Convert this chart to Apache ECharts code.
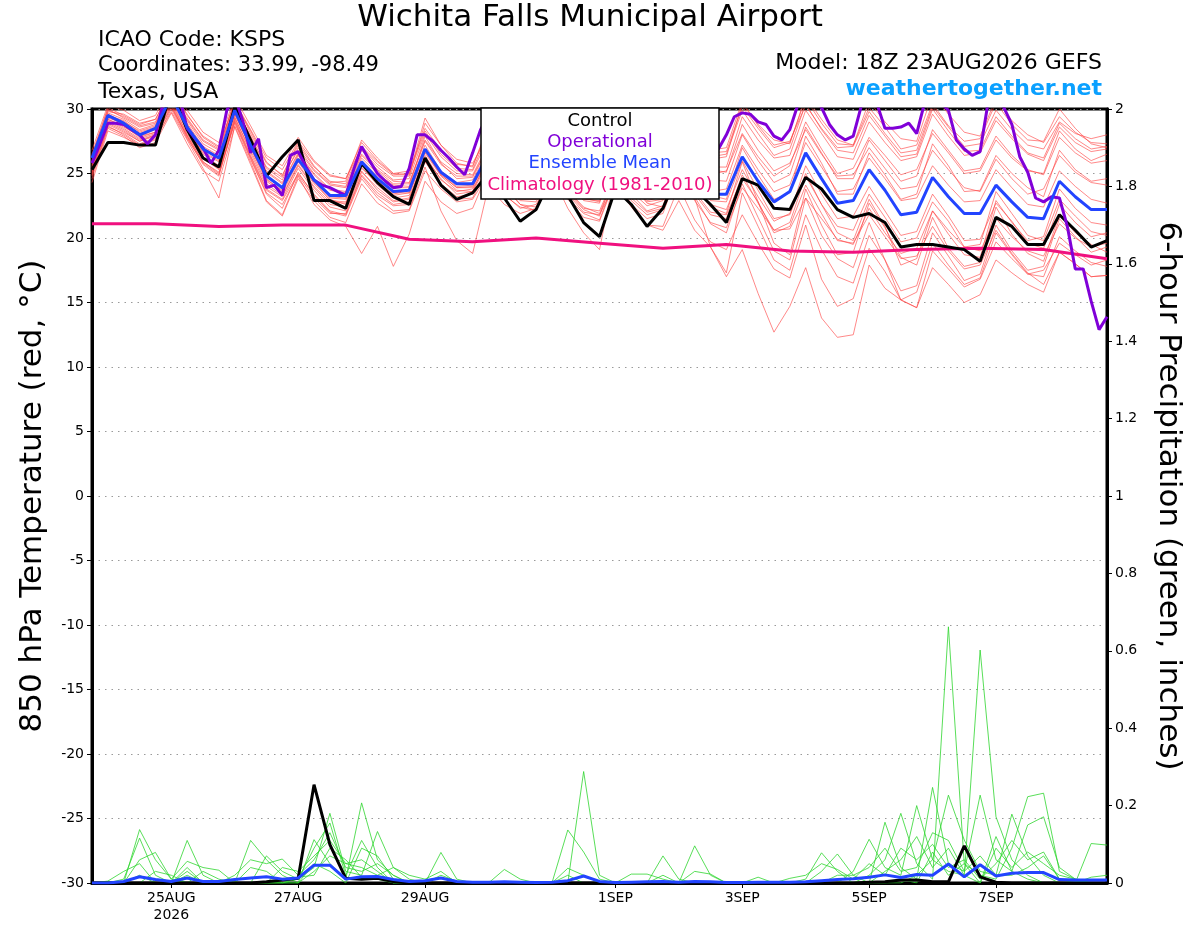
<!DOCTYPE html>
<html><head><meta charset="utf-8">
<script src="https://cdn.jsdelivr.net/npm/echarts@6/dist/echarts.min.js"></script>
<style>html,body{margin:0;padding:0;background:#fff}#c{width:1200px;height:927px}</style>
</head><body><div id="c"></div>
<script>
// Run: 18Z 23AUG2026 GEFS, hours since run start
const tickHours = [30, 78, 126, 198, 246, 294, 342];
const tickLabels = ['25AUG\n2026', '27AUG', '29AUG', '1SEP', '3SEP', '5SEP', '7SEP'];
const leftTicks = [-30, -25, -20, -15, -10, -5, 0, 5, 10, 15, 20, 25, 30];

// 850 hPa temperature, 6-hourly (65 values)
const controlTemp = [25.3,
 27.4,27.4,27.2,27.2, 31.5,28.4,26.2,25.5, 30.2,27.6,24.8,26.3, 27.6,22.9,22.9,22.3,
 25.8,24.3,23.2,22.6, 26.2,24.1,23.0,23.5, 25.0,23.1,21.3,22.2, 24.8,23.3,21.2,20.1,
 23.8,22.6,20.9,22.3, 25.2,23.8,22.6,21.2, 24.6,24.1,22.3,22.2, 24.7,23.8,22.2,21.6,
 21.9,21.2,19.3,19.5, 19.5,19.3,19.1,18.2, 21.6,20.9,19.5,19.5, 21.8,20.6,19.3,19.8];
const meanTemp = [26.2,
 29.5,28.9,28.0,28.5, 31.0,28.6,26.9,26.2, 29.9,27.2,24.8,23.9, 26.1,24.5,23.3,23.3,
 25.9,24.6,23.6,23.7, 26.9,25.1,24.2,24.2, 26.5,25.0,24.0,24.2, 26.3,24.8,23.8,23.6,
 26.0,24.8,23.8,24.0, 26.5,24.5,23.4,23.4, 26.3,24.4,22.8,23.6, 26.6,24.6,22.7,22.9,
 25.3,23.7,21.8,22.0, 24.7,23.2,21.9,21.9, 24.1,22.8,21.6,21.5, 24.4,23.2,22.2,22.2];
// operational run, 3-hourly (129 values)
const operationalTemp = [
 25.8,27.3,28.9,28.9,28.8,28.4,28.0,27.3,28.0,30.5,
 31.0,31.0,28.5,27.7,27.0,25.8,26.8,29.9,31.0,29.1,
 26.6,27.7,23.9,24.1,23.3,26.4,26.7,25.5,24.5,24.1,
 23.9,23.6,23.3,25.3,27.1,26.0,25.0,24.4,23.9,24.0,
 25.4,28.0,28.0,27.5,26.8,26.2,25.5,24.9,26.6,28.4,
 29.5,29.8,29.0,28.0,27.2,26.5,26.0,27.0,28.5,29.0,
 28.5,27.5,26.5,25.8,25.5,26.5,28.0,28.8,28.2,27.4,
 26.5,25.8,25.5,26.5,28.0,28.5,28.0,27.3,26.8,26.9,
 28.0,29.4,29.7,29.6,29.0,28.8,27.9,27.6,28.4,30.3,
 31.0,31.0,30.1,28.8,28.0,27.6,27.9,30.2,31.0,30.4,
 28.5,28.5,28.6,28.9,28.1,30.5,31.0,30.5,29.9,27.6,
 26.9,26.4,26.7,30.5,31.0,30.1,28.8,26.3,25.1,23.1,
 22.8,23.2,23.1,20.9,17.6,17.6,15.1,12.9,13.9];
// climatology 1981-2010, daily at 18Z (17 values)
const climatology = [21.1,21.1,20.9,21.0,21.0,19.9,19.7,20.0,19.6,19.2,19.5,19.0,18.9,19.1,19.2,19.1,18.4];

// ensemble members, 6-hourly
const member01 = [25.8, 29.8,29.6,28.9,29.2, 31.5,29.6,27.8,27.0, 30.6,28.4,26.2,25.3, 27.5,25.9,24.8,24.6, 27.4,26.0,25.0,25.2, 28.5,26.8,25.7,25.6, 28.4,26.9,25.8,26.0, 28.7,27.1,26.0,25.9, 28.9,27.5,26.4,26.5, 29.6,27.8,26.6,26.7, 30.2,28.5,27.0,27.4, 30.8,28.9,27.3,27.2, 30.1,28.6,26.9,27.2, 30.4,28.7,27.5,27.7, 30.5,28.8,27.6,27.5, 30.0,28.5,27.3,27.0];
const member02 = [25.0, 29.2,28.6,27.9,28.2, 30.4,28.0,26.1,25.4, 29.4,26.6,24.0,23.2, 25.6,23.9,22.6,22.4, 25.2,23.7,22.8,23.0, 26.4,24.5,23.6,23.8, 26.0,24.3,23.2,23.5, 25.8,24.0,23.0,22.9, 25.4,24.0,22.9,23.2, 25.9,23.6,22.0,21.8, 24.6,22.8,20.4,20.9, 24.1,21.9,19.8,19.6, 21.8,20.1,18.4,18.6, 20.9,19.0,17.6,17.9, 20.6,18.8,17.3,16.4, 18.9,18.0,17.0,17.1];
const member03 = [26.5, 30.0,29.3,28.6,28.9, 31.2,29.2,27.5,26.8, 30.3,27.9,25.5,24.7, 26.8,25.2,24.1,23.9, 26.5,25.3,24.4,24.3, 27.6,25.9,25.0,24.9, 27.3,25.8,24.9,25.1, 27.4,25.9,24.7,24.5, 27.0,25.8,24.9,25.0, 27.9,26.0,24.9,25.2, 28.1,26.3,24.8,25.6, 29.0,26.9,25.0,25.4, 27.8,26.4,24.9,25.3, 28.1,26.6,25.0,25.2, 27.6,26.2,25.2,25.0, 28.3,26.9,26.0,26.5];
const member04 = [24.3, 28.3,27.8,27.2,27.7, 29.8,27.6,25.4,23.1, 28.7,25.9,22.9,21.8, 24.8,22.6,21.4,20.9, 18.8,20.9,17.8,20.3, 24.4,22.8,21.9,22.3, 25.2,23.3,22.4,22.1, 24.9,23.1,21.9,21.4, 24.7,22.9,21.8,22.2, 25.6,23.1,19.3,17.3, 23.5,20.9,18.3,17.5, 21.8,19.1,17.0,16.5, 20.2,18.3,15.2,14.6, 19.0,17.6,16.2,16.8, 19.7,18.4,17.2,17.5, 19.6,18.7,17.9,18.3];
const member05 = [25.5, 29.0,28.4,27.6,28.0, 30.8,28.6,26.5,25.6, 29.6,27.0,24.4,23.5, 25.9,24.2,23.0,22.6, 25.5,24.1,23.1,23.3, 26.6,24.8,23.7,23.6, 25.9,24.0,22.9,22.8, 25.6,23.7,22.4,21.9, 24.9,22.6,21.0,20.6, 22.9,20.6,19.3,17.0, 19.1,15.7,12.7,14.7, 17.7,13.8,12.3,12.5, 17.9,16.1,15.2,14.6, 17.7,16.4,15.0,15.6, 18.3,17.3,16.4,15.8, 18.9,18.0,17.0,17.1];
const member06 = [25.2, 28.8,28.2,27.5,27.9, 30.1,27.9,25.9,25.0, 29.1,26.3,23.7,22.9, 25.0,23.4,22.1,21.8, 24.8,23.3,22.5,22.6, 26.0,24.0,23.0,23.1, 25.6,23.9,22.6,22.4, 25.2,23.4,22.0,21.8, 24.3,22.4,21.0,20.9, 24.0,21.4,19.7,19.1, 21.8,19.6,17.6,16.9, 21.0,16.8,14.7,15.3, 19.2,17.4,15.2,15.8, 19.6,17.9,16.4,16.9, 20.4,18.7,17.2,17.0, 20.1,19.0,18.1,17.8];
const member07 = [26.8, 30.3,29.9,29.1,29.5, 31.8,29.9,28.2,27.4, 30.9,28.7,26.4,25.6, 27.8,26.0,24.9,24.6, 27.0,25.7,24.8,24.8, 28.9,27.2,26.1,25.8, 28.0,26.6,25.5,25.7, 28.4,26.8,25.6,25.4, 28.3,27.0,25.8,25.9, 29.3,27.5,26.1,26.3, 30.4,28.8,27.6,27.3, 31.0,29.2,27.6,27.2, 30.6,29.0,27.7,27.5, 31.2,29.6,28.2,27.9, 30.8,29.1,28.0,27.4, 29.4,28.2,27.4,27.3];
const member08 = [25.6, 29.4,28.8,27.9,28.4, 30.6,28.3,26.6,25.9, 29.7,27.1,24.5,23.7, 26.2,24.6,23.1,23.0, 26.0,24.8,23.9,23.9, 27.2,25.2,24.3,24.5, 26.8,25.1,24.1,24.4, 26.6,25.0,24.0,23.9, 26.3,25.0,24.0,24.3, 26.9,24.8,23.6,23.8, 27.2,25.3,23.6,24.1, 27.4,25.5,23.6,23.8, 26.2,24.6,22.9,23.1, 25.6,24.1,22.8,22.9, 25.3,23.9,22.6,22.4, 25.2,24.0,23.0,22.7];
const member09 = [24.8, 28.7,28.0,27.2,27.6, 30.0,27.7,25.8,24.9, 28.9,26.1,23.4,22.3, 25.1,23.3,22.0,21.7, 24.6,23.1,22.1,22.2, 25.5,22.1,19.8,18.8, 24.0,22.6,21.9,22.3, 25.3,23.5,22.2,21.7, 25.1,23.6,22.5,22.9, 25.8,23.9,22.6,22.2, 25.3,23.2,21.3,21.9, 25.6,23.4,21.5,21.7, 24.0,22.1,20.2,20.5, 23.4,21.7,19.8,19.9, 22.7,21.3,19.6,19.2, 22.6,21.2,20.1,20.4];
const member10 = [26.0, 29.6,29.0,28.3,28.7, 31.0,28.9,27.1,26.4, 30.1,27.5,25.1,24.2, 26.5,24.9,23.7,23.5, 26.2,25.0,24.1,24.0, 27.9,25.8,24.6,24.7, 27.0,25.5,24.5,24.8, 27.2,25.5,24.4,24.2, 27.6,26.1,25.0,25.3, 28.4,26.5,25.3,25.1, 28.8,26.8,25.2,25.8, 28.4,26.5,24.8,24.9, 27.0,25.4,23.8,24.0, 26.8,25.3,23.9,23.6, 26.1,24.6,23.4,23.8, 26.4,25.1,24.3,24.1];
const member11 = [25.3, 29.1,28.5,27.7,28.1, 30.5,28.1,26.2,25.3, 29.3,26.8,24.2,23.3, 25.7,24.0,22.8,22.7, 25.4,24.3,23.3,23.5, 26.7,24.9,23.9,24.0, 26.2,24.6,23.5,23.8, 26.0,24.4,23.1,22.8, 25.8,24.1,22.8,23.0, 26.1,23.2,21.1,20.4, 24.2,21.6,19.0,18.3, 23.1,20.2,18.4,17.7, 21.2,18.3,15.9,16.3, 20.4,18.6,16.7,17.2, 21.0,19.0,17.5,17.8, 21.5,20.1,18.9,19.3];
const member12 = [26.2, 29.9,29.4,28.7,29.0, 31.3,29.1,27.3,26.6, 30.4,27.8,25.4,24.5, 27.0,25.3,24.2,24.0, 26.8,25.5,24.5,24.6, 28.1,26.3,25.2,25.2, 27.7,26.0,25.1,25.3, 27.9,26.2,25.0,24.9, 27.8,26.5,25.5,25.7, 28.8,26.8,25.5,25.5, 29.4,27.6,26.2,26.4, 29.9,28.1,26.3,26.1, 29.0,27.4,26.0,26.3, 29.6,27.9,26.4,26.6, 29.1,27.7,26.5,26.0, 28.6,27.4,26.7,26.9];
const member13 = [24.6, 28.5,27.9,27.0,27.4, 29.7,27.3,25.2,24.4, 28.6,25.7,22.8,21.7, 24.6,22.9,21.6,21.2, 24.2,22.7,21.9,22.1, 25.2,23.8,22.8,23.0, 25.0,23.4,22.3,22.6, 24.8,23.0,21.6,21.3, 24.5,22.6,21.5,21.9, 25.3,23.4,21.8,21.5, 24.9,22.7,20.6,21.2, 24.8,22.6,20.9,20.6, 23.4,21.6,19.7,20.0, 22.8,21.3,19.3,19.5, 23.6,21.9,20.2,19.8, 23.0,21.7,20.5,20.2];
const member14 = [25.9, 29.7,29.2,28.4,28.8, 31.1,29.3,27.6,26.9, 30.7,28.1,25.8,24.9, 27.2,25.5,24.4,24.2, 27.1,25.9,24.9,25.0, 28.3,26.5,25.4,25.3, 28.2,26.6,25.5,25.6, 28.5,26.9,25.9,25.8, 29.0,27.4,26.3,26.4, 30.1,28.1,26.8,27.0, 30.6,28.7,27.2,27.5, 30.3,28.5,27.0,27.1, 29.8,28.1,26.6,26.8, 30.2,28.6,27.1,27.3, 29.9,28.4,27.2,26.9, 29.0,28.1,27.7,28.0];
const member15 = [25.1, 28.9,28.3,27.5,28.0, 30.3,27.8,25.7,24.8, 29.2,26.4,23.8,23.0, 25.4,23.7,22.4,22.1, 25.1,23.9,22.9,23.1, 26.2,24.6,23.4,23.6, 26.4,24.6,23.4,23.3, 25.9,24.3,22.9,22.7, 26.5,24.2,22.7,22.4, 26.3,24.1,22.4,21.9, 25.9,22.8,19.6,18.7, 23.8,21.0,18.7,18.9, 22.7,20.8,18.5,17.9, 21.6,19.2,17.8,18.1, 22.4,20.3,18.8,18.2, 21.8,20.4,19.5,18.9];
const member16 = [25.4, 29.2,28.7,27.8,28.2, 30.7,28.5,26.7,26.0, 29.6,27.0,24.6,23.6, 26.4,24.4,22.9,22.8, 25.7,24.5,23.4,23.7, 26.9,25.0,24.0,24.1, 26.5,24.2,22.6,22.1, 24.9,22.3,20.4,19.1, 25.2,23.4,22.1,22.5, 26.0,24.4,23.3,23.0, 27.0,24.9,23.0,23.5, 27.9,25.8,23.4,23.4, 26.6,24.9,23.0,23.4, 27.3,25.6,23.6,23.7, 26.4,25.0,23.9,23.2, 26.8,25.3,24.4,24.6];
const member17 = [26.4, 30.1,29.5,28.8,29.2, 31.6,29.5,27.9,27.1, 30.5,28.3,25.9,24.8, 27.4,25.6,24.3,24.4, 27.6,26.2,25.0,24.9, 29.3,27.2,25.8,25.5, 28.8,27.0,25.8,25.9, 29.1,27.3,25.9,25.6, 28.6,27.2,26.0,26.2, 29.8,27.9,26.3,26.5, 29.9,28.1,26.4,26.9, 30.4,28.4,26.8,26.6, 29.5,27.9,26.3,26.5, 30.0,28.3,26.7,26.8, 29.4,27.9,26.6,26.2, 28.9,27.7,26.9,27.1];
const member18 = [25.7, 29.3,28.9,28.1,28.5, 30.9,28.8,26.9,26.1, 29.8,27.3,24.9,23.9, 26.0,24.3,23.2,23.1, 25.9,24.6,23.5,23.5, 26.8,24.9,23.9,23.9, 26.6,25.0,23.9,24.2, 26.2,24.6,23.6,23.4, 26.1,24.3,23.2,23.6, 26.7,24.6,22.9,22.8, 26.0,23.7,21.5,21.8, 25.0,22.6,20.4,19.8, 23.0,20.9,17.9,18.4, 22.1,20.3,18.7,18.5, 22.9,21.2,19.8,20.1, 23.8,22.3,21.2,21.0];
const member19 = [25.9, 29.5,29.1,28.2,28.6, 30.9,28.7,27.0,26.3, 30.0,27.6,25.2,24.3, 26.6,25.0,23.8,23.6, 26.4,25.2,24.2,24.2, 27.5,25.7,24.8,24.8, 27.1,25.5,24.4,24.6, 27.0,25.4,24.1,23.9, 27.3,25.6,24.6,24.8, 27.6,25.9,24.5,24.4, 28.0,26.0,24.3,24.9, 28.6,26.6,24.6,24.6, 27.6,26.0,24.4,24.8, 28.4,26.8,25.2,25.4, 27.9,26.4,25.3,24.9, 27.8,26.6,25.8,26.0];
const member20 = [24.9, 28.6,28.1,27.3,27.8, 30.2,27.9,25.9,25.1, 29.0,26.2,23.5,22.6, 24.9,23.1,21.9,21.9, 24.9,23.5,22.6,22.8, 25.9,24.2,23.2,23.4, 25.6,24.1,23.0,23.0, 25.3,23.6,22.3,22.1, 25.0,23.1,22.0,22.3, 25.1,22.9,21.2,20.8, 23.9,22.3,20.6,20.7, 23.1,21.5,19.9,19.5, 22.3,20.4,18.8,19.2, 22.1,20.6,19.3,19.0, 21.5,20.1,19.0,18.6, 21.1,20.0,19.3,19.6];
const members = [member01,member02,member03,member04,member05,member06,member07,member08,member09,member10,
                 member11,member12,member13,member14,member15,member16,member17,member18,member19,member20];

// 6-hour precipitation (inches), 6-hourly (65 values)
const controlPrecip = [0,0,0,0,0, 0,0,0,0,0, 0,0.003,0.008,0.012,0.254, 0.099,0.012,0.01,0.012,0.004, 0,0,0,0,0, 0,0,0,0,0, 0,0,0,0,0, 0,0,0,0,0, 0,0,0,0,0, 0,0,0,0,0.002, 0.003,0.008,0.008,0.003,0.003, 0.096,0.016,0.002,0,0, 0,0,0,0,0];
const meanPrecip = [0,0,0.004,0.016,0.009, 0.004,0.013,0.004,0.004,0.009, 0.013,0.016,0.01,0.013,0.046, 0.046,0.01,0.016,0.017,0.009, 0.004,0.006,0.013,0.004,0.002, 0.002,0.003,0.002,0.001,0.002, 0.006,0.018,0.004,0.001,0.002, 0.003,0.004,0.002,0.004,0.003, 0.001,0.001,0.002,0.002,0.002, 0.003,0.006,0.009,0.011,0.015, 0.021,0.014,0.022,0.02,0.049, 0.016,0.047,0.018,0.025,0.027, 0.027,0.009,0.008,0.008,0.008];
const precipM1 = [0,0,0,0.138,0.06, 0.01,0,0,0,0, 0,0,0,0.01,0.04, 0.18,0.03,0.02,0.133,0.04, 0.01,0,0,0,0, 0,0,0,0,0, 0.137,0.08,0.01,0,0, 0,0,0,0,0, 0,0,0,0,0, 0,0,0,0,0.02, 0.06,0.18,0.05,0.01,0.662, 0.05,0.02,0.01,0.09,0.223, 0.232,0.03,0.01,0,0];
const precipM2 = [0,0,0.01,0.116,0.02, 0,0.11,0.02,0,0, 0.11,0.06,0.02,0,0.112, 0.05,0.01,0.207,0.06,0.02, 0,0,0.079,0.01,0, 0,0,0,0,0, 0,0.288,0.02,0,0, 0,0,0,0,0, 0,0,0,0,0, 0.01,0.078,0.03,0,0, 0,0,0.02,0.06,0.03, 0.02,0.602,0.171,0.06,0.02, 0,0,0,0.102,0.098];
const precipM3 = [0,0,0,0.06,0.079, 0.01,0.056,0.04,0.033,0, 0,0.07,0.03,0.01,0.09, 0.155,0.02,0.11,0.04,0, 0,0,0,0,0, 0,0.035,0.01,0,0, 0.038,0.02,0,0,0, 0,0.07,0.01,0,0, 0,0,0,0,0, 0,0,0,0.03,0.113, 0.04,0.02,0.2,0.06,0.227, 0.111,0.03,0.02,0.178,0.07, 0.02,0,0,0,0];
const precipM4 = [0,0.005,0.03,0.05,0, 0,0.04,0,0,0.02, 0.06,0.05,0.062,0.02,0.06, 0.13,0.04,0.03,0.05,0.02, 0,0,0,0,0, 0,0,0,0,0, 0,0,0,0,0.023, 0.023,0.01,0,0.096,0.02, 0,0,0,0,0, 0,0.03,0.075,0.02,0, 0.157,0.04,0.01,0.247,0.05, 0.03,0.227,0.06,0.03,0.15, 0.171,0.04,0.01,0,0];
const precipM5 = [0,0,0,0,0.03, 0.02,0,0.03,0.01,0, 0,0,0.04,0.03,0.07, 0.11,0.05,0.04,0.02,0.04, 0.02,0.01,0.03,0,0, 0,0,0,0,0, 0,0,0,0,0, 0,0,0,0.03,0.023, 0,0,0.015,0,0.012, 0.02,0.05,0.035,0.01,0.05, 0.02,0.09,0.06,0.1,0.04, 0.06,0.01,0.05,0.11,0.06, 0.08,0.01,0.005,0,0];
const precipM6 = [0,0,0,0.02,0, 0,0.03,0,0,0, 0.04,0.03,0,0,0.03, 0.07,0.05,0.06,0.03,0, 0,0,0.02,0.005,0, 0,0,0,0,0, 0.02,0,0,0,0, 0,0.02,0,0,0, 0,0,0,0,0, 0,0,0,0,0, 0.03,0.06,0.12,0.04,0.09, 0.02,0,0.09,0.04,0.08, 0.05,0.02,0.01,0,0];
const precipM7 = [0,0,0,0,0, 0.005,0,0,0,0, 0,0,0,0.015,0.02, 0.09,0.06,0.015,0.01,0, 0,0,0,0,0, 0,0,0,0,0, 0,0,0,0,0, 0,0,0,0,0, 0,0,0,0,0, 0,0,0.02,0.02,0.04, 0.09,0.03,0.04,0.13,0.11, 0.03,0.07,0.02,0.02,0.04, 0.07,0.01,0,0.015,0.02];
const precipM8 = [0,0,0,0,0, 0,0.02,0,0,0, 0,0,0,0,0.05, 0.03,0,0.09,0.07,0.01, 0,0,0,0,0, 0,0,0,0,0, 0,0,0,0,0, 0,0,0,0,0, 0,0,0,0,0, 0,0,0,0,0, 0,0.01,0,0.08,0.02, 0.05,0,0.12,0.03,0.01, 0,0,0,0,0];
const precipMembers = [precipM1,precipM2,precipM3,precipM4,precipM5,precipM6,precipM7,precipM8];

// ---- build axis categories (3-hourly) and series ----
const categories = [];
for (let h = 0; h <= 384; h += 3) categories.push(String(h));
function from6h(arr) { const out = new Array(categories.length).fill(null); arr.forEach((v, k) => { out[k * 2] = v; }); return out; }
function fromDaily(arr) { const out = new Array(categories.length).fill(null); arr.forEach((v, k) => { out[k * 8] = v; }); return out; }
const isTick = (idx) => tickHours.indexOf(idx * 3) >= 0;

const FONT = '"DejaVu Sans", "Liberation Sans", Arial, sans-serif';
const series = [];
members.forEach((m, k) => series.push({
  type: 'line', name: 'member' + (k + 1), data: from6h(m), yAxisIndex: 0, connectNulls: true,
  symbol: 'none', lineStyle: { color: '#ff4545', width: 0.8, opacity: 0.8 }, silent: true, z: 2
}));
precipMembers.forEach((m, k) => series.push({
  type: 'line', name: 'pmember' + (k + 1), data: from6h(m), yAxisIndex: 1, connectNulls: true,
  symbol: 'none', lineStyle: { color: '#2ed62e', width: 0.8 }, silent: true, z: 3
}));
series.push({ type: 'line', name: 'Climatology (1981-2010)', data: fromDaily(climatology), yAxisIndex: 0, connectNulls: true,
  symbol: 'none', lineStyle: { color: '#f0107f', width: 3 }, z: 4 });
series.push({ type: 'line', name: 'Control', data: from6h(controlTemp), yAxisIndex: 0, connectNulls: true,
  symbol: 'none', lineStyle: { color: '#000000', width: 3 }, z: 5 });
series.push({ type: 'line', name: 'Operational', data: operationalTemp, yAxisIndex: 0, connectNulls: true,
  symbol: 'none', lineStyle: { color: '#8000d8', width: 3 }, z: 6 });
series.push({ type: 'line', name: 'Ensemble Mean', data: from6h(meanTemp), yAxisIndex: 0, connectNulls: true,
  symbol: 'none', lineStyle: { color: '#2244ff', width: 3 }, z: 7 });
series.push({ type: 'line', name: 'Control precip', data: from6h(controlPrecip), yAxisIndex: 1, connectNulls: true,
  symbol: 'none', lineStyle: { color: '#000000', width: 3 }, z: 6 });
series.push({ type: 'line', name: 'Mean precip', data: from6h(meanPrecip), yAxisIndex: 1, connectNulls: true,
  symbol: 'none', lineStyle: { color: '#2244ff', width: 3 }, z: 7 });

function txt(text, x, y, font, fill, align) {
  return { type: 'text', x: x, y: y, z: 200, silent: true,
    style: { text: text, font: font, fill: fill, align: align || 'left', textAlign: align || 'left',
             verticalAlign: 'middle', textVerticalAlign: 'middle' } };
}

const chart = echarts.init(document.getElementById('c'), null, { renderer: 'canvas' });
chart.setOption({
  animation: false,
  backgroundColor: '#ffffff',
  textStyle: { fontFamily: FONT },
  grid: { left: 92, right: 93, top: 109, bottom: 44, show: true, borderColor: '#000', borderWidth: 3, backgroundColor: 'transparent' },
  xAxis: {
    type: 'category', data: categories, boundaryGap: false,
    axisLine: { show: true, onZero: false, lineStyle: { color: '#000', width: 3 } },
    axisTick: { show: true, interval: isTick, length: 5, lineStyle: { color: '#000', width: 1 } },
    axisLabel: { interval: isTick, color: '#000', fontSize: 14, fontFamily: FONT, margin: 7, lineHeight: 17,
      formatter: (v) => { const k = tickHours.indexOf(+v); return k >= 0 ? tickLabels[k] : ''; } },
    splitLine: { show: false }
  },
  yAxis: [{
    type: 'value', min: leftTicks[0], max: leftTicks[leftTicks.length - 1], interval: 5, position: 'left',
    name: '850 hPa Temperature (red, °C)', nameLocation: 'middle', nameRotate: 90, nameGap: 44,
    nameTextStyle: { fontSize: 31, color: '#000', fontFamily: FONT },
    axisLine: { show: true, onZero: false, lineStyle: { color: '#000', width: 3 } },
    axisTick: { show: true, length: 5, lineStyle: { color: '#000', width: 1 } },
    axisLabel: { color: '#000', fontSize: 14, fontFamily: FONT, margin: 8 },
    splitLine: { show: true, lineStyle: { color: '#9a9a9a', width: 1, type: [1.5, 5] } }
  }, {
    type: 'value', min: 0, max: 2, interval: 0.2, position: 'right',
    name: '6-hour Precipitation (green, inches)', nameLocation: 'middle', nameRotate: -90, nameGap: 46,
    nameTextStyle: { fontSize: 31, color: '#000', fontFamily: FONT },
    axisLine: { show: true, onZero: false, lineStyle: { color: '#000', width: 3 } },
    axisTick: { show: true, length: 5, lineStyle: { color: '#000', width: 1 } },
    axisLabel: { color: '#000', fontSize: 14, fontFamily: FONT, margin: 8, formatter: (v) => String(+v.toFixed(1)) },
    splitLine: { show: false }
  }],
  series: series,
  graphic: [
    txt('Wichita Falls Municipal Airport', 590, 18, '31px ' + FONT, '#000', 'center'),
    txt('ICAO Code: KSPS', 98, 40, '22px ' + FONT, '#000'),
    txt('Coordinates: 33.99, -98.49', 98, 66, '21px ' + FONT, '#000'),
    txt('Texas, USA', 98, 92, '22px ' + FONT, '#000'),
    txt('Model: 18Z 23AUG2026 GEFS', 1102, 63, '22px ' + FONT, '#000', 'right'),
    txt('weathertogether.net', 1102, 89, 'bold 22px ' + FONT, '#0aa0ff', 'right'),
    { type: 'rect', z: 199, silent: true, shape: { x: 481, y: 108, width: 238, height: 91 },
      style: { fill: '#ffffff', stroke: '#000000', lineWidth: 1.5 } },
    txt('Control', 600, 121, '18px ' + FONT, '#000', 'center'),
    txt('Operational', 600, 142, '18px ' + FONT, '#8000d8', 'center'),
    txt('Ensemble Mean', 600, 163, '18px ' + FONT, '#2244ff', 'center'),
    txt('Climatology (1981-2010)', 600, 185, '18px ' + FONT, '#f0107f', 'center')
  ]
});
</script>
</body></html>
